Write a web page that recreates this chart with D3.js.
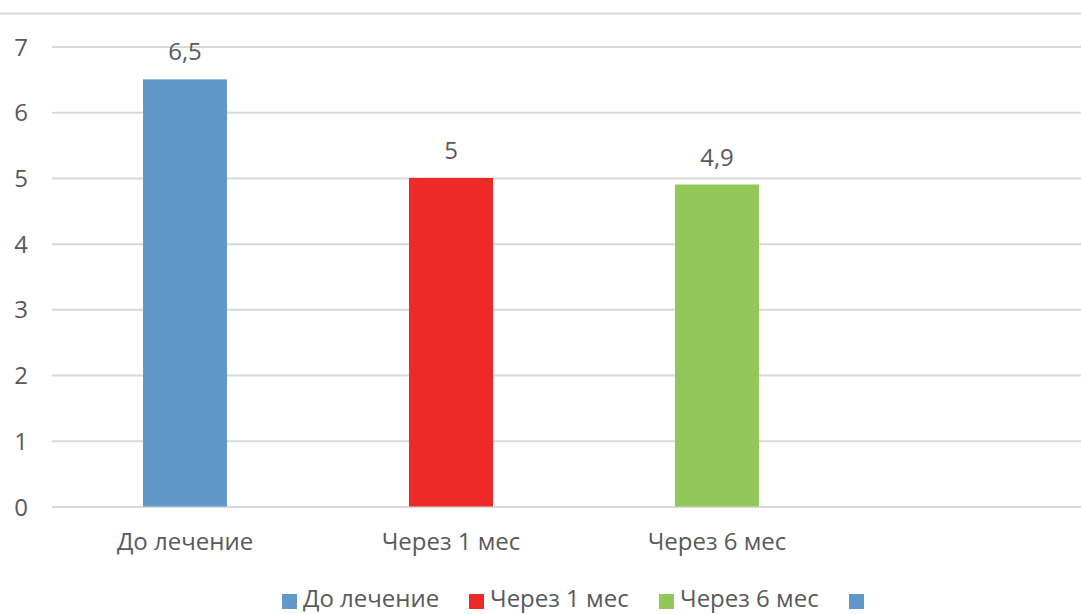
<!DOCTYPE html>
<html>
<head>
<meta charset="utf-8">
<script src="https://cdn.jsdelivr.net/npm/d3@7"></script>
<style>
  html, body { margin: 0; padding: 0; background: #fff; }
  svg text { font-family: "Open Sans", sans-serif; fill: #595959; }
</style>
</head>
<body>
<svg id="chart" width="1081" height="614"></svg>
<script>
// Categories along the x axis (the last slot is left empty)
const categories = ["До лечение", "Через 1 мес", "Через 6 мес", ""];
// Mean score per time point
const values = [6.5, 5, 4.9, null];
// Value labels shown above the bars
const valueLabels = ["6,5", "5", "4,9", ""];
// Series colours
const colors = ["#6098ca", "#ee2a29", "#92c75a", "#6098ca"];
// Y axis ticks
const yTicks = [0, 1, 2, 3, 4, 5, 6, 7];

const svg = d3.select("#chart");
const W = 1081, H = 614;
const margin = { left: 52, top: 46.5, bottom: 506.5 };
const plotRight = 1116;
const fontSize = "24px";

// Top border line of the chart area
svg.append("line")
  .attr("x1", 0).attr("x2", W)
  .attr("y1", 13.5).attr("y2", 13.5)
  .attr("stroke", "#d9d9d9").attr("stroke-width", 2);

const y = d3.scaleLinear().domain([0, 7]).range([margin.bottom, margin.top]);

const pad = 1 - 84 / 266;
const x = d3.scaleBand()
  .domain(d3.range(categories.length))
  .range([margin.left, plotRight])
  .paddingInner(pad)
  .paddingOuter(pad / 2);

// Y axis with gridlines
const yAxis = svg.append("g")
  .attr("transform", `translate(${margin.left},0)`)
  .call(d3.axisLeft(y).tickValues(yTicks).tickSize(-(plotRight - margin.left)).tickPadding(24).tickFormat(d3.format("d")));
yAxis.select(".domain").remove();
yAxis.selectAll(".tick line").attr("stroke", "#d9d9d9").attr("stroke-width", 2);
yAxis.selectAll(".tick text").style("font-size", fontSize).attr("dy", "0.36em");

// Category labels
const xAxis = svg.append("g")
  .attr("transform", `translate(0,${margin.bottom})`)
  .call(d3.axisBottom(x).tickSize(0).tickPadding(26).tickFormat(i => categories[i]));
xAxis.select(".domain").remove();
xAxis.selectAll(".tick text").style("font-size", fontSize).attr("dy", "0.71em");

// Bars
const idx = d3.range(categories.length).filter(i => values[i] != null);
svg.append("g").selectAll("rect")
  .data(idx)
  .join("rect")
  .attr("x", i => x(i))
  .attr("width", x.bandwidth())
  .attr("y", i => y(values[i]))
  .attr("height", i => y(0) - y(values[i]))
  .attr("fill", i => colors[i]);

// Value labels
svg.append("g").selectAll("text")
  .data(idx)
  .join("text")
  .attr("x", i => x(i) + x.bandwidth() / 2)
  .attr("y", i => y(values[i]) - 19)
  .attr("text-anchor", "middle")
  .style("font-size", fontSize)
  .text(i => valueLabels[i]);

// Legend
const legendX = [282, 469, 659, 849];
const legend = svg.append("g").selectAll("g")
  .data(d3.range(categories.length))
  .join("g")
  .attr("transform", i => `translate(${legendX[i]},0)`);
legend.append("rect")
  .attr("x", 0).attr("y", 594)
  .attr("width", 15).attr("height", 15)
  .attr("fill", i => colors[i]);
legend.append("text")
  .attr("x", 21).attr("y", 607)
  .style("font-size", fontSize)
  .text(i => categories[i]);
</script>
</body>
</html>
